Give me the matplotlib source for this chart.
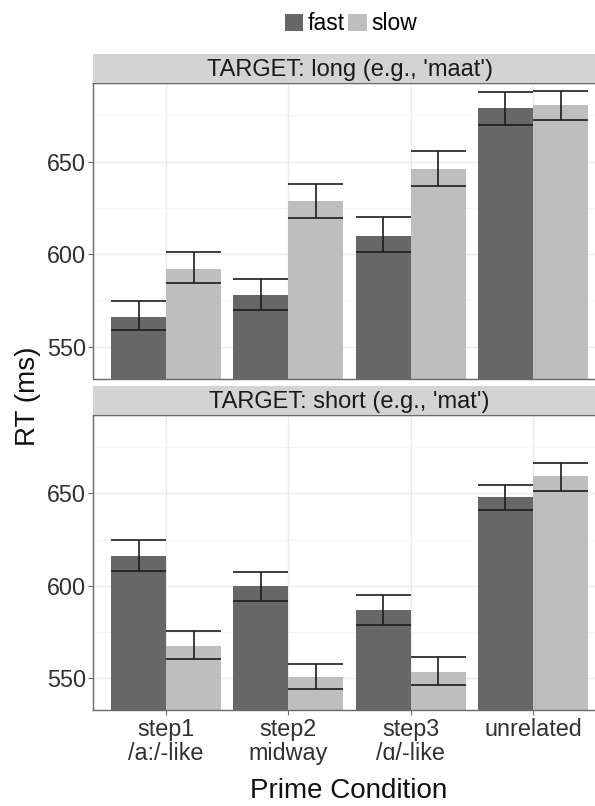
import numpy as np
import matplotlib.pyplot as plt
from matplotlib.patches import Patch

plt.rcParams['font.family'] = ['Liberation Sans', 'DejaVu Sans']

conditions = ['step1\n/a:/-like', 'step2\nmidway', 'step3\n/\u0251/-like', 'unrelated']
speeds = ['fast', 'slow']
colors = {'fast': '#676767', 'slow': '#bebebe'}

# RT means and error bar limits
long_fast = [566.3, 578.0, 610.0, 678.8]
long_fast_lo = [559.0, 570.0, 601.3, 670.0]
long_fast_hi = [574.5, 586.6, 619.9, 687.7]
long_slow = [592.2, 628.6, 646.0, 680.4]
long_slow_lo = [584.5, 619.6, 637.0, 672.2]
long_slow_hi = [601.0, 637.7, 655.8, 688.2]

short_fast = [615.9, 599.6, 587.0, 648.0]
short_fast_lo = [607.8, 592.0, 578.8, 641.0]
short_fast_hi = [624.5, 607.6, 595.1, 654.3]
short_slow = [567.6, 550.4, 553.1, 659.2]
short_slow_lo = [560.3, 544.0, 546.2, 651.3]
short_slow_hi = [575.7, 557.5, 561.4, 666.7]

panels = [
    ("TARGET: long (e.g., 'maat')",
     {'fast': (long_fast, long_fast_lo, long_fast_hi),
      'slow': (long_slow, long_slow_lo, long_slow_hi)}),
    ("TARGET: short (e.g., 'mat')",
     {'fast': (short_fast, short_fast_lo, short_fast_hi),
      'slow': (short_slow, short_slow_lo, short_slow_hi)}),
]

W, H = 595, 806
fig = plt.figure(figsize=(W / 100, H / 100), dpi=100)

left_px, right_px = 92.7, 606.4
ax_left = left_px / W
ax_w = (right_px - left_px) / W
# (top, bottom) of plot area and strip top, in pixels
boxes = [(83.3, 378.7, 54.0), (415.3, 710.0, 386.0)]

x = np.arange(1, len(conditions) + 1)
bw = 0.45
tick_fs = 16.8

for i, ((title, data), (top, bot, stop)) in enumerate(zip(panels, boxes)):
    ax = fig.add_axes([ax_left, 1 - bot / H, ax_w, (bot - top) / H])
    ax.set_xlim(0.4, 4.6)
    ax.set_ylim(532.75, 692.25)
    ax.set_yticks([550, 600, 650])
    ax.set_yticks([575, 625, 675], minor=True)
    ax.set_xticks(x)
    ax.grid(True, which='major', color='#ebebeb', lw=1.0, zorder=0)
    ax.grid(True, which='minor', axis='y', color='#f4f4f4', lw=0.6, zorder=0)
    ax.set_axisbelow(True)

    for j, sp in enumerate(speeds):
        mean, lo, hi = data[sp]
        xs = x + (j - 0.5) * bw
        ax.bar(xs, mean, width=bw, color=colors[sp], zorder=2)
        ax.vlines(xs, lo, hi, color='#1c1c1c', lw=1.2, zorder=3)
        ax.hlines(lo, xs - bw / 2, xs + bw / 2, color='#1c1c1c', lw=1.2, zorder=3)
        ax.hlines(hi, xs - bw / 2, xs + bw / 2, color='#1c1c1c', lw=1.2, zorder=3)

    for s in ax.spines.values():
        s.set_color('#6a6a6a')
        s.set_linewidth(1.0)
    ax.tick_params(axis='y', which='major', labelsize=tick_fs, labelcolor='#303030',
                   color='#6a6a6a', length=3.5, pad=1.5)
    ax.tick_params(axis='y', which='minor', length=0)
    if i == 0:
        ax.tick_params(axis='x', length=0, labelbottom=False)
    else:
        ax.set_xticklabels(conditions, fontsize=tick_fs, color='#303030', linespacing=1.05)
        ax.tick_params(axis='x', color='#6a6a6a', length=3.5, pad=2)

    sax = fig.add_axes([ax_left, 1 - top / H, ax_w, (top - stop) / H])
    sax.set_facecolor('#d3d3d3')
    sax.set_xticks([])
    sax.set_yticks([])
    for k, s in sax.spines.items():
        s.set_visible(k == 'bottom')
        s.set_color('#6a6a6a')
    sax.text(0.5, 0.47, title, ha='center', va='center', fontsize=17, color='#1a1a1a',
             transform=sax.transAxes)

fig.text(28 / W, 1 - 396 / H, 'RT (ms)', rotation=90, ha='center', va='center',
         fontsize=20, color='#111111')
fig.text(349 / W, 1 - 791 / H, 'Prime Condition', ha='center', va='center',
         fontsize=20, color='#111111')

handles = [Patch(facecolor=colors[s], edgecolor='none') for s in speeds]
fig.legend(handles, speeds, loc='center', bbox_to_anchor=(351 / W, 1 - 24 / H), ncol=2,
           frameon=False, fontsize=16.5, handlelength=0.8, handleheight=0.8,
           handletextpad=0.2, columnspacing=0.15, borderpad=0)

fig.savefig('out.png', dpi=100)
